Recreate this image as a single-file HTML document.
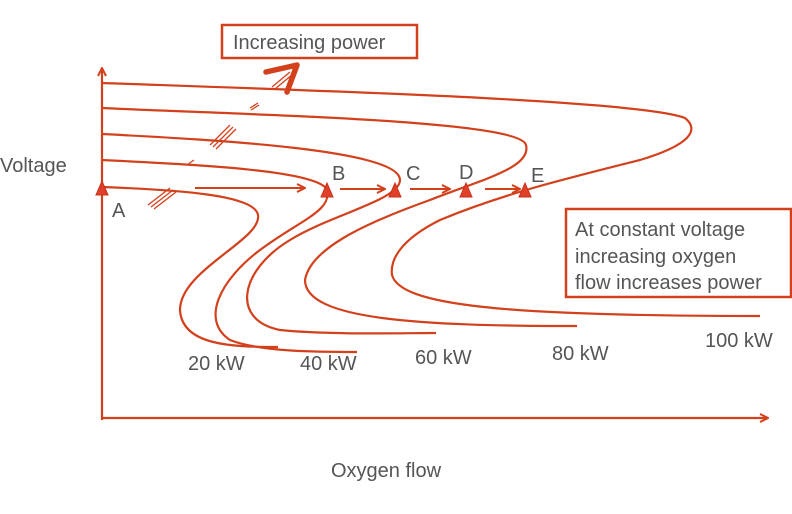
<!DOCTYPE html>
<html><head><style>
body{margin:0;background:#fff;width:792px;height:509px;overflow:hidden;font-family:"Liberation Sans",sans-serif}
</style></head><body>
<svg width="792" height="509" viewBox="0 0 792 509" xmlns="http://www.w3.org/2000/svg">
<defs><marker id="ah" markerWidth="10" markerHeight="10" refX="9" refY="5" orient="auto" markerUnits="userSpaceOnUse"><path d="M1,1 L9,5 L1,9" fill="none" stroke="#d2401c" stroke-width="2"/></marker></defs>
<g fill="none" stroke="#d2401c" stroke-width="2.2">
<line x1="102" y1="420" x2="102" y2="68" marker-end="url(#ah)"/>
<line x1="102" y1="418" x2="768" y2="418" marker-end="url(#ah)"/>
<path d="M102,187 C180,190 255,195 258,215 C262,240 180,270 180,310 C182,345 230,347 278,347"/>
<path d="M102,160 C200,165 310,170 326,188 C335,210 300,220 260,250 C220,280 200,320 230,340 C260,352 320,352 357,352"/>
<path d="M102,134 C220,140 400,150 400,180 C400,200 330,215 290,240 C240,270 230,320 280,330 C330,335 400,333 436,333"/>
<path d="M102,108 C250,115 520,120 526,145 C532,168 480,180 430,200 C360,225 310,250 305,280 C305,320 420,326 577,326"/>
<path d="M102,83 C300,90 640,100 685,118 C700,130 690,145 640,160 C560,180 500,195 440,220 C400,240 390,260 392,275 C400,305 500,316 760,316"/>
<g stroke-width="2"><line x1="195" y1="188" x2="305" y2="188" marker-end="url(#ah)"/>
<line x1="340" y1="189" x2="385" y2="189" marker-end="url(#ah)"/>
<line x1="410" y1="189" x2="450" y2="189" marker-end="url(#ah)"/>
<line x1="485" y1="189" x2="520" y2="189" marker-end="url(#ah)"/></g>
<g stroke-width="1.3"><path d="M148,205 L170,188 M151,207 L173,190 M154,209 L176,192"/>
<path d="M210,145 L230,125 M213,147 L233,127 M216,149 L236,129"/>
<path d="M250,108 L258,103 M251,110 L259,105"/>
<path d="M187,165 L194,160"/>
<path d="M272,87 L290,72 M275,89 L293,74"/></g>
<rect x="222" y="25" width="195" height="33" stroke-width="2.5"/>
<rect x="566" y="209" width="225" height="88" stroke-width="2.5"/>
<path d="M266,72 L297,65 L287,92" stroke-width="5.5" stroke-linecap="round" stroke-linejoin="round"/>
</g>
<g fill="#e0402a" stroke="#c83018" stroke-width="1">
<path d="M96,195 L102,181 L108,195 Z"/><path d="M321,197 L327,183 L333,197 Z"/>
<path d="M389,197 L395,183 L401,197 Z"/><path d="M460,197 L466,183 L472,197 Z"/>
<path d="M519,197 L525,183 L531,197 Z"/></g>
<g fill="#555" font-size="20">
<text x="233" y="49">Increasing power</text>
<text x="0" y="172">Voltage</text>
<text x="112" y="217">A</text><text x="332" y="180">B</text><text x="406" y="180">C</text>
<text x="459" y="179">D</text><text x="531" y="182">E</text>
<text x="575" y="236">At constant voltage</text>
<text x="575" y="263">increasing oxygen</text>
<text x="575" y="289">flow increases power</text>
<text x="188" y="370">20 kW</text><text x="300" y="370">40 kW</text>
<text x="415" y="364">60 kW</text><text x="552" y="360">80 kW</text>
<text x="705" y="347">100 kW</text>
<text x="331" y="477">Oxygen flow</text></g>
</svg>
</body></html>
